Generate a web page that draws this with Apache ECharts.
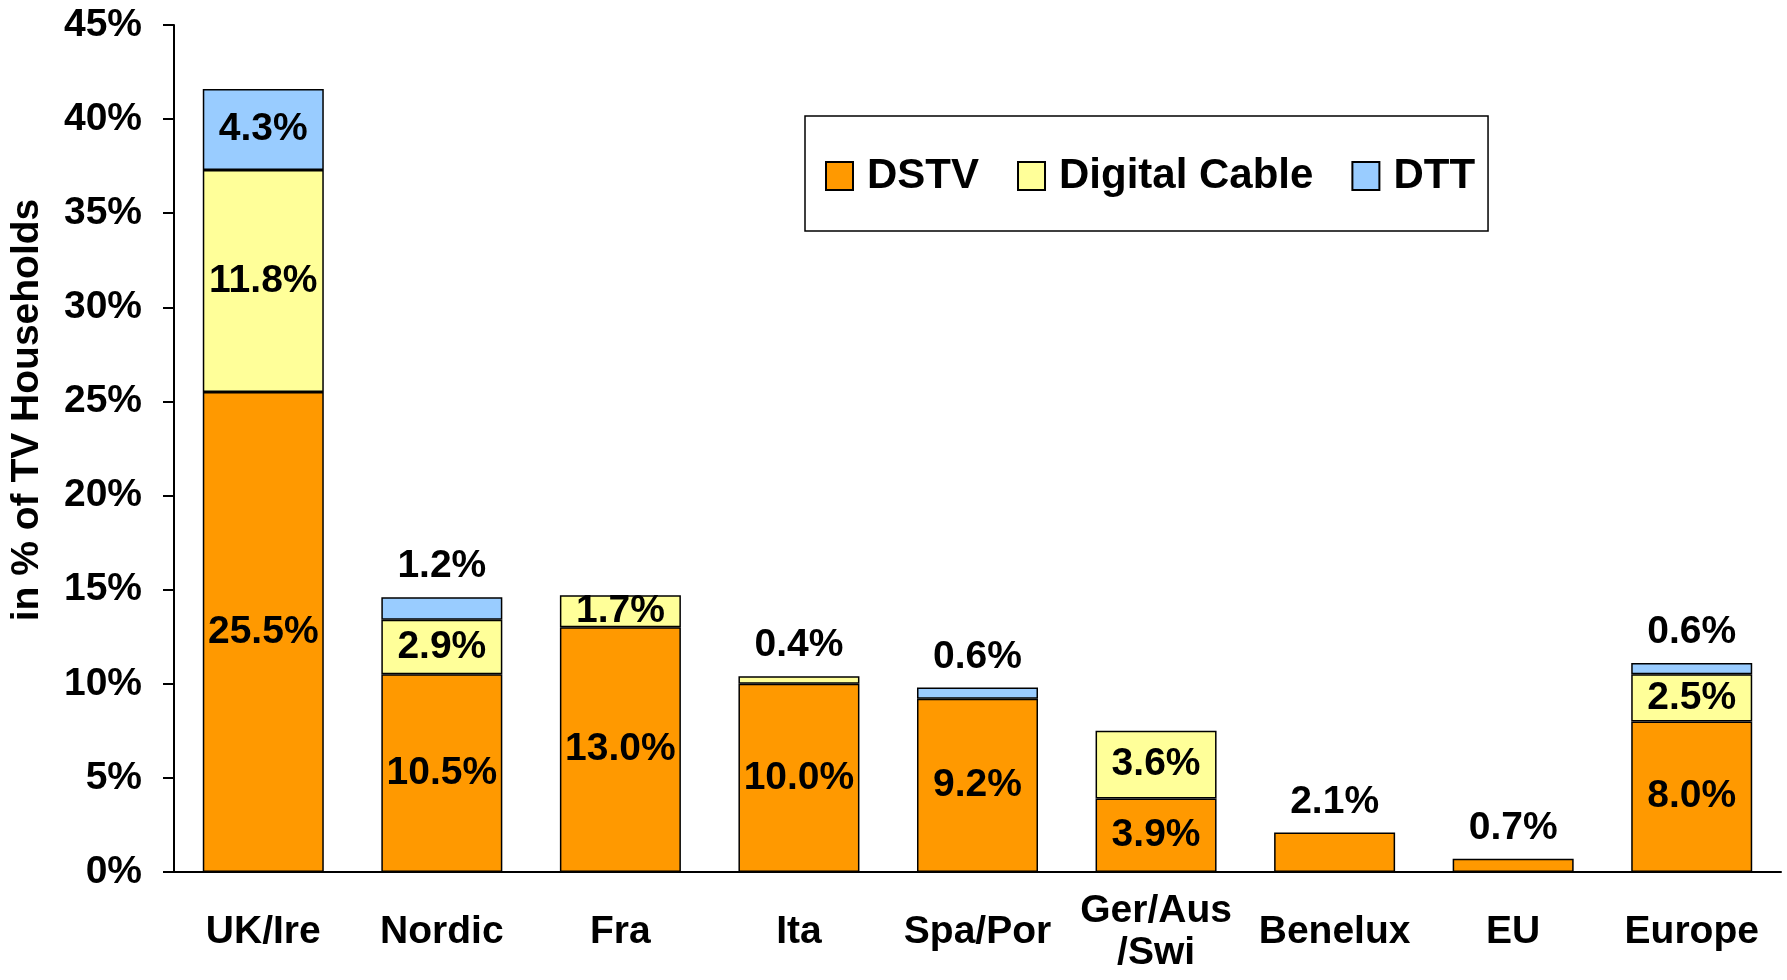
<!DOCTYPE html>
<html>
<head>
<meta charset="utf-8">
<script src="https://cdn.jsdelivr.net/npm/echarts@6/dist/echarts.min.js"></script>
<style>
  html, body { margin: 0; padding: 0; background: #fff; }
  #chart { width: 1787px; height: 980px; }
</style>
</head>
<body>
<div id="chart"></div>
<script>
const categories = ["UK/Ire", "Nordic", "Fra", "Ita", "Spa/Por", "Ger/Aus\n/Swi", "Benelux", "EU", "Europe"];
const dstv = [25.5, 10.5, 13.0, 10.0, 9.2, 3.9, 2.1, 0.7, 8.0];
const digitalCable = [11.8, 2.9, 1.7, 0.4, null, 3.6, null, null, 2.5];
const dtt = [4.3, 1.2, null, null, 0.6, null, null, null, 0.6];
const yTicks = [0, 5, 10, 15, 20, 25, 30, 35, 40, 45];

const font = "Arial, 'Liberation Sans', sans-serif";
const stack = [dstv, digitalCable, dtt];

// small segments get their label above the bar, like the original
function buildData(k) {
  return stack[k].map((v, i) => {
    if (v == null) return "-";
    const isTop = stack.slice(k + 1).every(s => s[i] == null);
    const count = stack.filter(s => s[i] != null).length;
    const outside = (isTop && v < 1.5) || (count === 1 && v < 2.5);
    return {
      value: v,
      label: {
        show: true,
        position: outside ? "top" : "inside",
        distance: 11,
        formatter: v.toFixed(1) + "%"
      }
    };
  });
}

const names = ["DSTV", "Digital Cable", "DTT"];
const colors = ["#FF9900", "#FFFF99", "#99CCFF"];

const chart = echarts.init(document.getElementById("chart"));
chart.setOption({
  animation: false,
  textStyle: { fontFamily: font },
  grid: { left: 174, right: 6, top: 25, bottom: 108 },
  legend: {
    left: 805,
    top: 116,
    padding: [39, 13, 34, 20],
    borderColor: "#000",
    borderWidth: 1.5,
    itemWidth: 27,
    itemHeight: 28,
    itemGap: 38,
    icon: "rect",
    data: names,
    textStyle: {
      fontFamily: font,
      fontSize: 42,
      fontWeight: "bold",
      color: "#000",
      padding: [0, 0, 0, 9]
    }
  },
  xAxis: {
    type: "category",
    data: categories,
    axisLine: { lineStyle: { color: "#000", width: 2 } },
    axisTick: { length: 14, lineStyle: { color: "#000", width: 2 } },
    axisLabel: {
      margin: 60,
      verticalAlign: "middle",
      fontSize: 39,
      fontWeight: "bold",
      color: "#000",
      lineHeight: 42,
      interval: 0
    }
  },
  yAxis: {
    type: "value",
    min: yTicks[0],
    max: yTicks[yTicks.length - 1],
    interval: 5,
    splitLine: { show: false },
    axisLine: { show: true, lineStyle: { color: "#000", width: 2 } },
    axisTick: { show: true, length: 11, lineStyle: { color: "#000", width: 2 } },
    axisLabel: {
      margin: 32,
      fontSize: 39,
      fontWeight: "bold",
      color: "#000",
      formatter: "{value}%"
    }
  },
  graphic: [
    {
      type: "text",
      x: 27,
      y: 410,
      rotation: Math.PI / 2,
      style: {
        text: "in % of TV Households",
        font: "bold 39px " + font,
        fill: "#000",
        align: "center",
        verticalAlign: "middle"
      }
    }
  ],
  series: names.map((name, k) => ({
    name: name,
    type: "bar",
    stack: "total",
    barWidth: 121,
    itemStyle: { color: colors[k], borderColor: "#000", borderWidth: 1.5 },
    label: {
      fontFamily: font,
      fontSize: 39,
      fontWeight: "bold",
      color: "#000"
    },
    data: buildData(k)
  }))
});
</script>
</body>
</html>
